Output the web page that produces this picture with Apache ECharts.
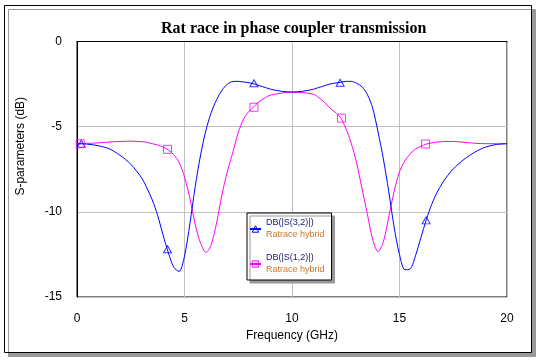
<!DOCTYPE html>
<html>
<head>
<meta charset="utf-8">
<script src="https://cdn.jsdelivr.net/npm/echarts@6/dist/echarts.min.js"></script>
<style>html,body{margin:0;padding:0;background:#fff}#c{width:540px;height:362px}</style>
</head>
<body>
<div id="c"></div>
<script>
// Frequency samples (GHz)
var freq = [0,0.5,1,1.5,2,2.5,3,3.25,3.5,3.75,4,4.25,4.5,4.75,5,5.25,5.5,5.75,6,6.25,6.5,6.75,7,7.25,7.5,7.75,8,8.25,8.5,8.75,9,9.5,10,10.5,11,11.25,11.5,11.75,12,12.25,12.5,12.75,13,13.25,13.5,13.75,14,14.25,14.5,14.75,15,15.25,15.5,15.75,16,16.25,16.5,16.75,17,17.25,17.5,18,18.5,19,19.5,20];
// DB(|S(3,2)|)
var s32 = [-6.0,-6.03,-6.12,-6.3,-6.68,-7.2,-8.0,-8.6,-9.3,-10.2,-11.35,-12.4,-13.25,-13.5,-12.6,-10.7,-8.5,-6.65,-5.2,-4.15,-3.4,-2.85,-2.5,-2.35,-2.34,-2.38,-2.42,-2.5,-2.6,-2.7,-2.8,-2.92,-2.97,-2.92,-2.8,-2.7,-2.6,-2.5,-2.44,-2.4,-2.34,-2.34,-2.45,-2.65,-3.1,-3.9,-5.3,-6.9,-8.8,-10.9,-12.5,-13.4,-13.35,-12.55,-11.5,-10.45,-9.55,-8.85,-8.3,-7.85,-7.48,-6.92,-6.5,-6.2,-6.05,-6.0];
// DB(|S(1,2)|)
var s12 = [-6.0,-5.98,-5.95,-5.9,-5.87,-5.85,-5.88,-5.92,-6.0,-6.08,-6.2,-6.36,-6.65,-7.1,-7.95,-9.2,-10.75,-11.85,-12.38,-11.9,-10.6,-8.95,-7.6,-6.5,-5.35,-4.55,-4.1,-3.8,-3.5,-3.3,-3.15,-3.03,-2.97,-3.0,-3.1,-3.3,-3.55,-3.9,-4.15,-4.45,-5.1,-5.95,-7.1,-8.6,-10.1,-11.6,-12.34,-11.75,-10.3,-8.8,-7.65,-7.0,-6.6,-6.3,-6.15,-6.02,-5.95,-5.9,-5.88,-5.87,-5.87,-5.92,-5.97,-6.0,-6.0,-6.0];
// marker positions
var mkFreq32 = [0.2,4.21,8.23,12.24,16.24];
var mkVal32 = [-6.0,-12.2,-2.45,-2.42,-10.5];
var mkFreq12 = [0.15,4.21,8.23,12.3,16.21];
var mkVal12 = [-6.0,-6.33,-3.86,-4.5,-6.02];
var seriesNames = ['DB(|S(3,2)|)','DB(|S(1,2)|)'];
var seriesColors = ['#0000ff','#ff00ff'];
var legendSub = 'Ratrace hybrid';
var titleText = 'Rat race in phase coupler transmission';
var xName = 'Frequency (GHz)';
var yName = 'S-parameters (dB)';

function pairs(xs, ys){ return xs.map(function(x,i){ return [x, ys[i]]; }); }

var chart = echarts.init(document.getElementById('c'), null, {renderer:'canvas'});
var font = 'Liberation Sans, Arial, sans-serif';
chart.setOption({
  backgroundColor:'#fff',
  animation:false,
  graphic:[{
    type:'rect', z:-10, silent:true,
    shape:{x:4.5,y:5.5,width:527,height:347},
    style:{fill:'#fff',stroke:'#000',lineWidth:1,shadowColor:'#999',shadowOffsetX:4,shadowOffsetY:4,shadowBlur:0}
  }],
  title:{
    text:titleText, left:161, top:21, padding:0,
    textStyle:{fontFamily:'Liberation Serif, Times New Roman, serif',fontWeight:'bold',fontSize:16,color:'#000'}
  },
  grid:{left:77,top:41.5,width:430,height:255.5,show:true,borderColor:'#000',borderWidth:1,backgroundColor:'transparent'},
  xAxis:{
    type:'value',min:0,max:20,interval:5,
    name:xName,nameLocation:'middle',nameGap:32,
    nameTextStyle:{fontFamily:font,fontSize:12,color:'#000'},
    axisLine:{show:true,lineStyle:{color:'#000'}},
    axisTick:{show:false},
    axisLabel:{margin:16,fontFamily:font,fontSize:12,color:'#000'},
    splitLine:{show:true,lineStyle:{color:'#c0c0c0',width:1}}
  },
  yAxis:{
    type:'value',min:-15,max:0,interval:5,
    name:yName,nameLocation:'middle',nameGap:50,nameRotate:90,
    nameTextStyle:{fontFamily:font,fontSize:12,color:'#000',padding:[0,0,0,46]},
    axisLine:{show:true,lineStyle:{color:'#000'}},
    axisTick:{show:false},
    axisLabel:{margin:15,fontFamily:font,fontSize:12,color:'#000'},
    splitLine:{show:true,lineStyle:{color:'#c0c0c0',width:1}}
  },
  legend:{
    show:true, orient:'vertical', left:247, top:213,
    padding:[4,7,4,2], itemGap:11, itemWidth:11, itemHeight:8,
    backgroundColor:'#fff', borderColor:'#000', borderWidth:1,
    shadowColor:'#999', shadowOffsetX:3, shadowOffsetY:3, shadowBlur:0,
    data:seriesNames.map(function(n,i){
      return {name:n, itemStyle:{color:'rgba(255,255,255,0)',borderColor:seriesColors[i],borderWidth:1}};
    }),
    formatter:function(n){ return '{a|'+n+'}\n{b|'+legendSub+'}'; },
    textStyle:{
      lineHeight:12,
      rich:{
        a:{fontFamily:font,fontSize:9,color:'#1a1a70',lineHeight:12,height:12},
        b:{fontFamily:font,fontSize:9,color:'#c8782a',lineHeight:12,height:12}
      }
    }
  },
  series:[
    {name:seriesNames[0],type:'line',data:pairs(freq,s32),smooth:0.3,showSymbol:false,symbol:'triangle',symbolSize:7,
     lineStyle:{color:seriesColors[0],width:1},itemStyle:{color:'rgba(255,255,255,0)',borderColor:seriesColors[0],borderWidth:1},z:3},
    {name:seriesNames[1],type:'line',data:pairs(freq,s12),smooth:0.3,showSymbol:false,symbol:'rect',symbolSize:8,
     lineStyle:{color:seriesColors[1],width:1},itemStyle:{color:'rgba(255,255,255,0)',borderColor:seriesColors[1],borderWidth:1},z:2},
    {name:seriesNames[0],type:'scatter',data:pairs(mkFreq32,mkVal32),symbol:'triangle',symbolSize:[8,7],
     itemStyle:{color:'rgba(255,255,255,0)',borderColor:seriesColors[0],borderWidth:1},z:4},
    {name:seriesNames[1],type:'scatter',data:pairs(mkFreq12,mkVal12),symbol:'rect',symbolSize:8,
     itemStyle:{color:'rgba(255,255,255,0)',borderColor:seriesColors[1],borderWidth:1},z:4}
  ]
});
</script>
</body>
</html>
